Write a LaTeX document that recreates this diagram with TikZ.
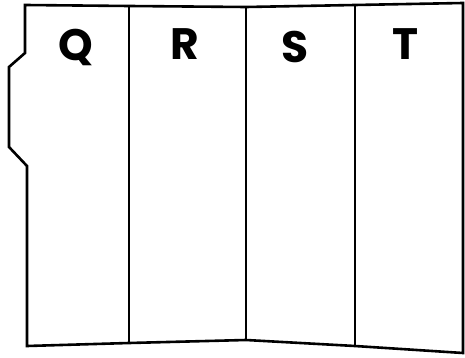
\documentclass[tikz,border=0pt]{standalone}
\usepackage{fontspec}
\setmainfont{Poppins}
\begin{document}
\begin{tikzpicture}[x=1pt,y=-1pt,
  edge/.style={line width=2.6pt,line join=miter},
  lbl/.style={font=\fontsize{44}{44}\selectfont\bfseries,inner sep=0pt}]
\useasboundingbox (0,0) rectangle (465,358);
\fill[white] (0,0) rectangle (465,358);
% outline
\draw[edge] (27,346) -- (27,166) -- (9,147) -- (9,67) -- (25,53) -- (25,5)
  -- (129,6) -- (246,7) -- (355,5) -- (463,3) -- (463,353)
  -- (355,346) -- (246,340) -- (129,343) -- cycle;
% dividers
\coordinate (d1t) at (129,6);  \coordinate (d1b) at (129,343);
\coordinate (d2t) at (246,7);  \coordinate (d2b) at (246,340);
\coordinate (d3t) at (355,5);  \coordinate (d3b) at (355,346);
\draw[edge] (d1t) -- (d1b);
\draw[edge] (d2t) -- (d2b);
\draw[edge] (d3t) -- (d3b);
% labels
\node[lbl] (q) at (76,47) {Q};
\node[lbl] (r) at (185,44) {R};
\node[lbl] (s) at (295,47) {S};
\node[lbl] (t) at (405,44) {T};
\end{tikzpicture}
\end{document}
